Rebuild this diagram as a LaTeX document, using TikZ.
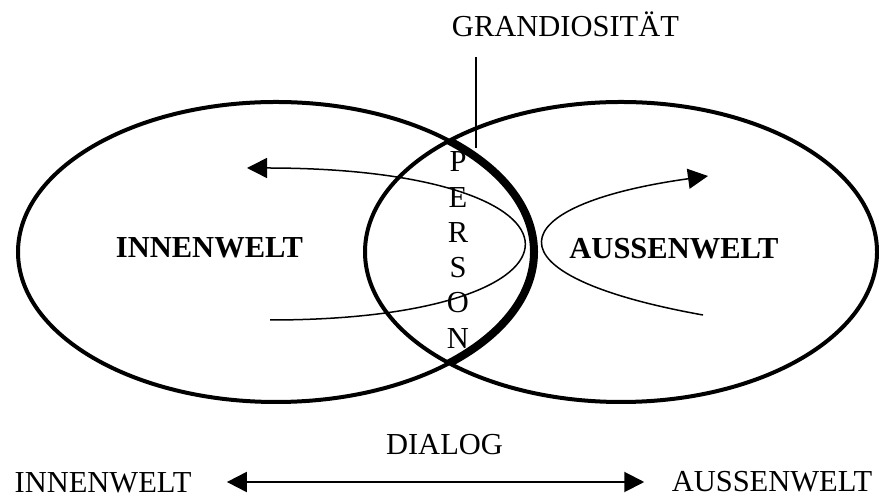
\documentclass[tikz,border=0pt]{standalone}
\usepackage{fontspec}
\setmainfont{Liberation Serif}
\usetikzlibrary{arrows.meta}

\begin{document}
\begin{tikzpicture}[x=0.4pt, y=-0.4pt,
  word/.style={inner sep=0pt, anchor=base, font=\fontsize{12.2}{14.1}\selectfont},
  bold word/.style={word, font=\fontsize{12.2}{14.1}\selectfont\bfseries},
  world/.style={line width=1.6pt},
  flow/.style={line width=0.6pt, -{Triangle[length=8pt,width=8pt]}},
  dialog/.style={line width=0.8pt, {Triangle[length=8pt,width=8pt]}-{Triangle[length=8pt,width=8pt]}}]
  \useasboundingbox (0,0) rectangle (879,497);
  % the two worlds
  \draw[world] (276,252) ellipse [x radius=103.2pt, y radius=60pt];
  \draw[world] (621,252) ellipse [x radius=102.4pt, y radius=60pt];
  \begin{scope}
    \clip (621,252) ellipse [x radius=102.4pt, y radius=60pt];
    \draw[line width=3.2pt] (276,252) ellipse [x radius=103.2pt, y radius=60pt];
  \end{scope}
  \node[bold word] (innen) at (209.5,258) {INNENWELT};
  \node[bold word] (aussen) at (674,259) {AUSSENWELT};
  \node[word, anchor=center, align=center] (person) at (458,250) {P\\E\\R\\S\\O\\N};
  % grandiosity marker
  \node[word] (grand) at (565.5,37) {GRANDIOSITÄT};
  \coordinate (gtop) at (476,57);
  \coordinate (gbot) at (476,148);
  \draw[line width=0.6pt] (gtop) -- (gbot);
  % loops through the person
  \coordinate (in start) at (270,320);
  \coordinate (in end) at (247,168);
  \draw[flow] (in start) .. controls (611,320) and (611,168) .. (in end);
  \coordinate (out start) at (703,315);
  \coordinate (out end) at (708,176);
  \draw[flow] (out start) .. controls (480,275) and (500,205) .. (out end);
  % dialog line
  \node[word] (dialog) at (444.5,455) {DIALOG};
  \node[word] (inbottom) at (103,493) {INNENWELT};
  \node[word] (outbottom) at (772,492) {AUSSENWELT};
  \draw[dialog, shorten <=14pt, shorten >=10.8pt] (inbottom.east |- 0,482) -- (outbottom.west |- 0,482);
\end{tikzpicture}
\end{document}
